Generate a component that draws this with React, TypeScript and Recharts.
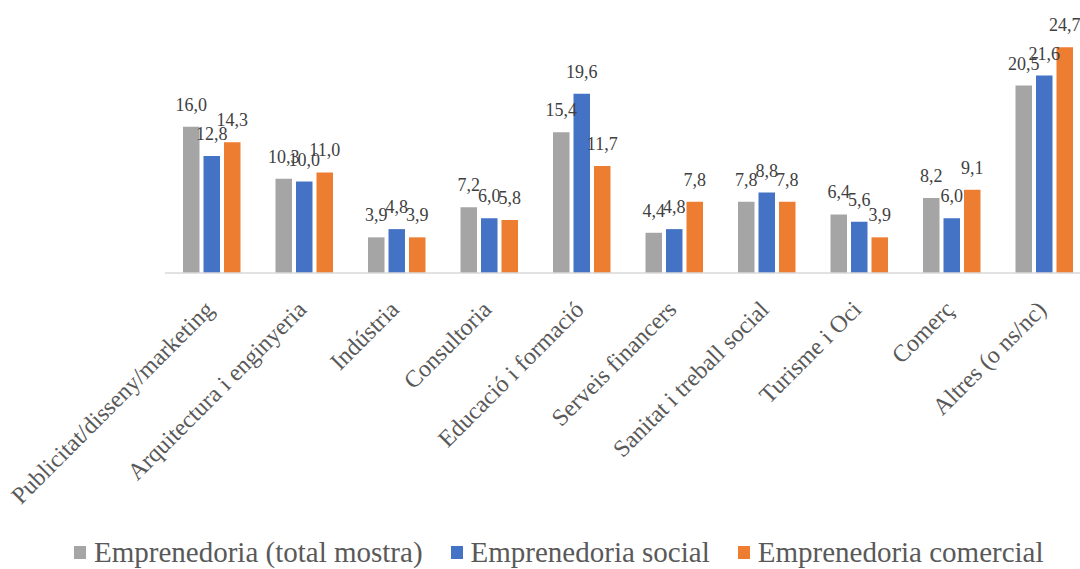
import React from "react";
import { Bar, BarChart, LabelList, Legend, XAxis, YAxis } from "recharts";

const categories = [
  "Publicitat/disseny/marketing",
  "Arquitectura i enginyeria",
  "Indústria",
  "Consultoria",
  "Educació i formació",
  "Serveis financers",
  "Sanitat i treball social",
  "Turisme i Oci",
  "Comerç",
  "Altres (o ns/nc)",
];

const totalMostra = [16.0, 10.3, 3.9, 7.2, 15.4, 4.4, 7.8, 6.4, 8.2, 20.5];
const social = [12.8, 10.0, 4.8, 6.0, 19.6, 4.8, 8.8, 5.6, 6.0, 21.6];
const comercial = [14.3, 11.0, 3.9, 5.8, 11.7, 7.8, 7.8, 3.9, 9.1, 24.7];

const seriesNames = [
  "Emprenedoria (total mostra)",
  "Emprenedoria social",
  "Emprenedoria comercial",
];
const colors = ["#A5A5A5", "#4472C4", "#ED7D31"];

const data = categories.map((name, i) => ({
  name,
  total: totalMostra[i],
  social: social[i],
  comercial: comercial[i],
}));

const serif = "'Liberation Serif', 'Times New Roman', serif";

const ValueLabel = (props: any) => {
  const { x, y, width, value } = props;
  return (
    <text
      x={x + width / 2}
      y={y - 16}
      textAnchor="middle"
      fontSize={18}
      fontFamily={serif}
      fill="#404040"
    >
      {Number(value).toFixed(1).replace(".", ",")}
    </text>
  );
};

const CategoryTick = (props: any) => {
  const { x, y, payload } = props;
  return (
    <text
      transform={`translate(${x + 4},${y + 38}) rotate(-45)`}
      textAnchor="end"
      fontSize={24}
      fontFamily={serif}
      fill="#595959"
    >
      {payload.value}
    </text>
  );
};

const LegendBox = () => (
  <div
    style={{
      display: "flex",
      alignItems: "center",
      fontFamily: serif,
      fontSize: 29,
      color: "#595959",
      paddingLeft: 74,
      lineHeight: "32px",
    }}
  >
    {seriesNames.map((n, i) => (
      <div
        key={n}
        style={{ display: "flex", alignItems: "center", marginRight: 28 }}
      >
        <span
          style={{
            display: "inline-block",
            width: 12,
            height: 13,
            background: colors[i],
            marginRight: 8,
          }}
        />
        <span>{n}</span>
      </div>
    ))}
  </div>
);

export default function App() {
  return (
    <div
      style={{
        position: "fixed",
        left: 0,
        top: 0,
        width: 1080,
        height: 569,
        overflow: "hidden",
        background: "#fff",
      }}
    >
      <BarChart
        width={1090}
        height={569}
        data={data}
        margin={{ top: 17, right: 0, bottom: 46, left: 165 }}
        barSize={16.5}
        barGap={4}
      >
        <XAxis
          dataKey="name"
          interval={0}
          height={250}
          tickSize={0}
          tickMargin={0}
          tickLine={false}
          axisLine={{ stroke: "#D9D9D9", strokeWidth: 1.5 }}
          tick={<CategoryTick />}
        />
        <YAxis hide domain={[0, 28]} />
        <Legend
          verticalAlign="middle"
          content={<LegendBox />}
          wrapperStyle={{ top: 536, left: 0, width: 1080 }}
        />
        <Bar dataKey="total" name={seriesNames[0]} fill={colors[0]} isAnimationActive={false}>
          <LabelList dataKey="total" content={<ValueLabel />} />
        </Bar>
        <Bar dataKey="social" name={seriesNames[1]} fill={colors[1]} isAnimationActive={false}>
          <LabelList dataKey="social" content={<ValueLabel />} />
        </Bar>
        <Bar dataKey="comercial" name={seriesNames[2]} fill={colors[2]} isAnimationActive={false}>
          <LabelList dataKey="comercial" content={<ValueLabel />} />
        </Bar>
      </BarChart>
    </div>
  );
}
